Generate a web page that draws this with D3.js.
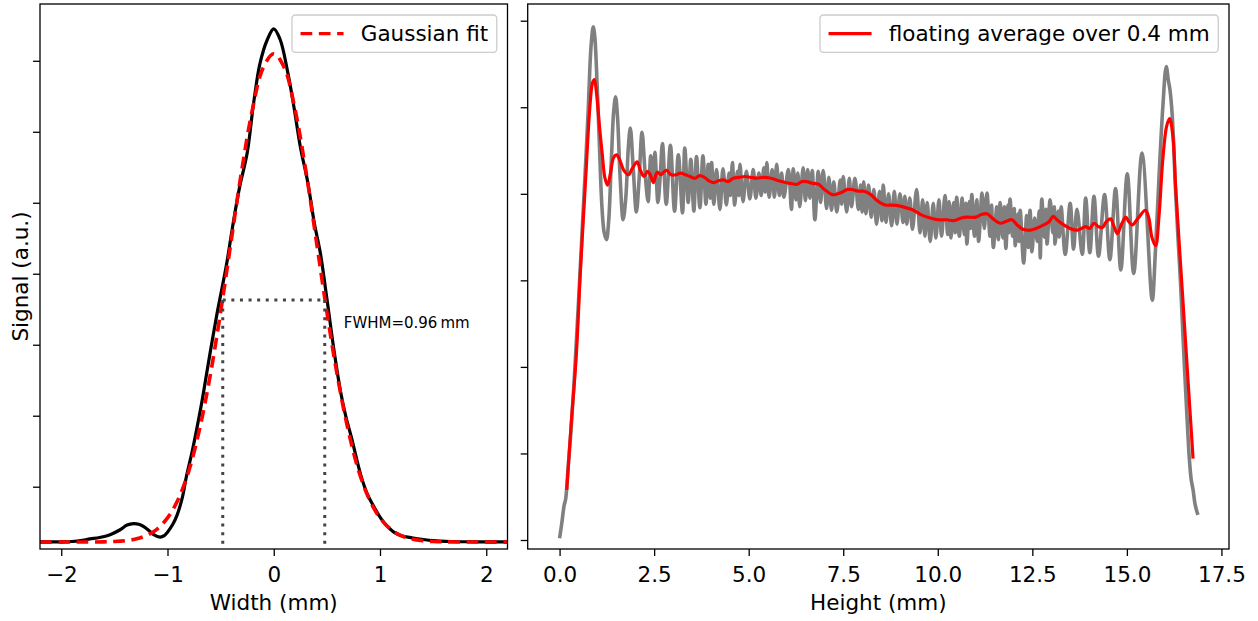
<!DOCTYPE html>
<html>
<head>
<meta charset="utf-8">
<script src="https://cdn.jsdelivr.net/npm/d3@7"></script>
<style>
  body { margin: 0; background: #fff; }
  svg text { font-family: 'DejaVu Sans', sans-serif; fill: #000; }
</style>
</head>
<body>
<script>
/* global d3 */

// ---- left panel: transverse profile, Width (mm) vs signal (a.u.)
const widthProfile = [
  [-2.20, 0.224], [-2.00, 0.224], [-1.90, 0.228], [-1.80, 0.245], [-1.73, 0.265], [-1.64, 0.285],
  [-1.54, 0.325], [-1.45, 0.39], [-1.38, 0.46], [-1.32, 0.48], [-1.27, 0.47], [-1.22, 0.435],
  [-1.17, 0.375], [-1.13, 0.325], [-1.07, 0.29], [-1.03, 0.31], [-1.00, 0.36], [-0.95, 0.47],
  [-0.91, 0.60], [-0.86, 0.85], [-0.82, 1.16], [-0.77, 1.48], [-0.72, 1.85], [-0.67, 2.25],
  [-0.63, 2.61], [-0.58, 3.05], [-0.53, 3.47], [-0.48, 3.85], [-0.44, 4.17], [-0.38, 4.73],
  [-0.32, 5.23], [-0.25, 5.70], [-0.19, 6.40], [-0.13, 6.96], [-0.06, 7.30], [0.00, 7.45],
  [0.06, 7.30], [0.13, 6.85], [0.19, 6.35], [0.25, 5.79], [0.32, 5.29], [0.38, 4.73],
  [0.44, 4.28], [0.50, 3.65], [0.57, 2.89], [0.63, 2.33], [0.68, 1.98], [0.73, 1.70],
  [0.82, 1.16], [0.88, 0.90], [0.95, 0.70], [1.01, 0.55], [1.07, 0.44], [1.13, 0.36],
  [1.20, 0.31], [1.30, 0.28], [1.39, 0.26], [1.50, 0.24], [1.67, 0.228], [1.90, 0.224], [2.20, 0.222]
];

const gaussianFit = [
  [-2.2, 0.22], [-2.0, 0.22], [-1.8, 0.222], [-1.6, 0.223], [-1.5, 0.228], [-1.4, 0.239],
  [-1.3, 0.263], [-1.2, 0.31], [-1.1, 0.40], [-1.0, 0.56], [-0.9, 0.82], [-0.8, 1.22],
  [-0.7, 1.80], [-0.6, 2.55], [-0.5, 3.46], [-0.4, 4.47], [-0.3, 5.47], [-0.2, 6.32],
  [-0.1, 6.90], [0.0, 7.10], [0.1, 6.90], [0.2, 6.32], [0.3, 5.47], [0.4, 4.47],
  [0.5, 3.46], [0.6, 2.55], [0.7, 1.80], [0.8, 1.22], [0.9, 0.82], [1.0, 0.56],
  [1.1, 0.40], [1.2, 0.31], [1.3, 0.263], [1.4, 0.239], [1.5, 0.228], [1.6, 0.223],
  [1.8, 0.222], [2.0, 0.22], [2.2, 0.22]
];

const fwhmEdges = [-0.48, 0.48];
const halfMax = 3.63;
const fwhmLabel = 'FWHM=0.96\u2009mm';

const widthTicks = [-2, -1, 0, 1, 2];
const signalTicks = [1, 2, 3, 4, 5, 6, 7];

// ---- right panel: longitudinal profile, Height (mm)
const rawProfile = [
  [0.00, 0.02], [0.06, 0.20], [0.12, 0.40], [0.16, 0.47], [0.22, 0.80], [0.30, 1.25], [0.40, 1.95],
  [0.50, 2.75], [0.60, 3.60], [0.70, 4.45], [0.76, 5.00], [0.80, 5.45], [0.84, 5.75], [0.89, 5.93],
  [0.93, 5.82], [0.98, 5.40], [1.05, 4.60], [1.12, 3.85], [1.18, 3.55], [1.24, 3.47], [1.30, 3.70],
  [1.37, 4.40], [1.43, 4.95], [1.48, 5.12], [1.53, 4.90], [1.60, 4.20], [1.68, 3.70], [1.75, 3.95],
  [1.82, 4.55], [1.87, 4.76], [1.94, 4.35], [2.03, 3.79], [2.10, 4.15], [2.18, 4.71], [2.26, 4.25],
  [2.34, 3.91], [2.41, 4.44], [2.47, 4.15], [2.52, 4.48], [2.60, 3.90], [2.66, 4.20], [2.72, 4.58],
  [2.82, 3.88], [2.93, 4.56], [3.04, 3.80], [3.14, 4.45], [3.25, 3.78], [3.31, 4.53], [3.40, 3.90],
  [3.47, 4.40], [3.55, 3.80], [3.62, 4.43], [3.71, 3.84], [3.79, 4.44], [3.87, 3.88], [3.93, 4.34],
  [3.98, 3.95], [4.02, 4.36], [4.08, 3.88], [4.15, 4.28], [4.24, 3.82], [4.32, 4.29], [4.41, 3.87],
  [4.48, 4.24], [4.52, 3.98], [4.57, 4.36], [4.63, 3.87], [4.70, 4.26], [4.74, 3.98], [4.77, 4.34],
  [4.85, 3.91], [4.94, 4.26], [5.03, 3.94], [5.12, 4.28], [5.19, 3.95], [5.27, 4.24], [5.33, 3.98],
  [5.40, 4.30], [5.44, 4.02], [5.48, 4.36], [5.54, 3.96], [5.62, 4.28], [5.68, 3.96], [5.74, 4.34],
  [5.81, 3.98], [5.87, 4.24], [5.93, 3.96], [6.05, 4.28], [6.13, 3.82], [6.18, 4.29], [6.25, 3.93],
  [6.30, 4.24], [6.35, 3.85], [6.44, 4.30], [6.50, 3.92], [6.56, 4.28], [6.62, 3.95], [6.68, 4.27],
  [6.75, 3.70], [6.84, 4.26], [6.90, 3.90], [6.97, 4.27], [7.06, 3.83], [7.12, 4.19], [7.19, 3.81],
  [7.25, 4.14], [7.33, 3.79], [7.42, 4.16], [7.46, 3.88], [7.50, 4.20], [7.59, 3.79], [7.66, 4.18],
  [7.72, 3.85], [7.81, 4.18], [7.90, 3.82], [7.96, 4.10], [8.00, 3.79], [8.04, 4.14], [8.10, 3.77],
  [8.17, 4.10], [8.24, 3.73], [8.31, 4.05], [8.38, 3.65], [8.46, 4.03], [8.52, 3.69], [8.56, 4.10],
  [8.63, 3.67], [8.70, 4.00], [8.78, 3.63], [8.85, 4.03], [8.92, 3.65], [9.00, 4.00], [9.08, 3.67],
  [9.13, 3.97], [9.18, 3.65], [9.26, 3.95], [9.33, 3.59], [9.44, 4.05], [9.53, 3.55], [9.60, 3.93],
  [9.66, 3.51], [9.72, 3.90], [9.80, 3.45], [9.88, 3.89], [9.95, 3.49], [10.03, 3.93], [10.10, 3.51],
  [10.19, 3.98], [10.26, 3.53], [10.30, 3.91], [10.35, 3.49], [10.42, 3.90], [10.46, 3.55], [10.50, 3.96],
  [10.57, 3.51], [10.64, 3.95], [10.70, 3.53], [10.74, 3.89], [10.77, 3.42], [10.84, 3.91], [10.87, 3.60],
  [10.90, 3.99], [10.97, 3.51], [11.03, 3.93], [11.08, 3.45], [11.17, 4.01], [11.23, 3.60], [11.30, 4.01],
  [11.38, 3.51], [11.42, 3.87], [11.47, 3.38], [11.56, 3.85], [11.60, 3.47], [11.65, 3.90], [11.72, 3.49],
  [11.76, 3.85], [11.80, 3.37], [11.86, 3.87], [11.88, 3.55], [11.91, 3.94], [11.98, 3.51], [12.02, 3.83],
  [12.05, 3.40], [12.12, 3.77], [12.15, 3.45], [12.18, 3.81], [12.27, 3.20], [12.35, 3.75], [12.39, 3.38],
  [12.44, 3.81], [12.49, 3.33], [12.56, 3.72], [12.63, 3.45], [12.68, 3.80], [12.71, 3.26], [12.75, 3.94],
  [12.82, 3.50], [12.86, 3.82], [12.89, 3.42], [12.97, 3.93], [13.04, 3.55], [13.08, 3.85], [13.10, 3.42],
  [13.18, 3.80], [13.21, 3.50], [13.26, 3.85], [13.37, 3.30], [13.50, 3.89], [13.59, 3.36], [13.68, 3.82],
  [13.82, 3.30], [13.91, 3.95], [14.02, 3.32], [14.13, 3.97], [14.25, 3.28], [14.41, 3.99], [14.55, 3.24],
  [14.70, 4.06], [14.84, 3.12], [15.01, 4.23], [15.18, 3.08], [15.40, 4.47], [15.67, 2.77], [15.75, 3.30],
  [15.85, 4.20], [15.95, 5.00], [16.04, 5.47], [16.10, 5.30], [16.14, 5.20], [16.20, 4.90], [16.28, 4.10],
  [16.35, 3.50], [16.42, 2.96], [16.50, 2.20], [16.59, 1.42], [16.65, 0.95], [16.70, 0.70], [16.75, 0.58],
  [16.80, 0.42], [16.85, 0.33], [16.88, 0.29]
];

const floatingAverage = [
  [0.19, 0.58], [0.30, 1.30], [0.44, 2.12], [0.55, 3.10], [0.69, 4.18], [0.80, 5.00], [0.87, 5.28],
  [0.92, 5.32], [0.98, 5.15], [1.05, 4.80], [1.13, 4.45], [1.20, 4.18], [1.27, 4.10], [1.35, 4.25],
  [1.43, 4.42], [1.51, 4.45], [1.60, 4.38], [1.70, 4.27], [1.82, 4.22], [1.93, 4.30], [2.05, 4.37],
  [2.13, 4.28], [2.23, 4.20], [2.33, 4.26], [2.40, 4.22], [2.48, 4.13], [2.58, 4.25], [2.68, 4.22],
  [2.75, 4.25], [2.83, 4.27], [2.95, 4.22], [3.08, 4.22], [3.20, 4.24], [3.33, 4.22], [3.45, 4.20],
  [3.58, 4.18], [3.70, 4.21], [3.83, 4.19], [3.95, 4.15], [4.08, 4.13], [4.20, 4.15], [4.34, 4.16],
  [4.45, 4.14], [4.59, 4.18], [4.75, 4.19], [4.90, 4.20], [5.05, 4.19], [5.21, 4.18], [5.40, 4.19],
  [5.59, 4.18], [5.80, 4.15], [5.97, 4.13], [6.10, 4.12], [6.28, 4.11], [6.40, 4.14], [6.53, 4.14],
  [6.70, 4.12], [6.85, 4.11], [7.00, 4.05], [7.22, 3.99], [7.35, 4.00], [7.48, 4.02], [7.60, 4.05],
  [7.72, 4.05], [7.90, 4.03], [8.05, 4.03], [8.23, 3.99], [8.40, 3.92], [8.61, 3.87], [8.80, 3.87],
  [8.98, 3.86], [9.15, 3.84], [9.36, 3.81], [9.55, 3.76], [9.80, 3.72], [10.00, 3.70], [10.24, 3.70],
  [10.42, 3.69], [10.62, 3.72], [10.77, 3.73], [11.00, 3.73], [11.15, 3.76], [11.30, 3.77], [11.49, 3.70],
  [11.65, 3.66], [11.80, 3.68], [11.96, 3.70], [12.10, 3.64], [12.25, 3.59], [12.44, 3.58], [12.60, 3.60],
  [12.80, 3.64], [12.95, 3.68], [13.05, 3.74], [13.15, 3.70], [13.33, 3.64], [13.50, 3.60], [13.69, 3.58],
  [13.80, 3.60], [13.91, 3.62], [14.02, 3.60], [14.13, 3.66], [14.25, 3.62], [14.35, 3.61], [14.46, 3.68],
  [14.57, 3.71], [14.66, 3.62], [14.75, 3.54], [14.86, 3.65], [14.97, 3.73], [15.05, 3.68], [15.14, 3.64],
  [15.30, 3.72], [15.49, 3.81], [15.58, 3.72], [15.66, 3.50], [15.76, 3.40], [15.85, 3.75], [15.95, 4.40],
  [16.05, 4.78], [16.13, 4.87], [16.22, 4.65], [16.29, 4.07], [16.42, 3.18], [16.52, 2.50], [16.63, 1.75],
  [16.75, 0.94]
];

const heightTicks = [0, 2.5, 5, 7.5, 10, 12.5, 15, 17.5];
const heightSignalTicks = [0, 1, 2, 3, 4, 5, 6];

// ---- layout
const width = 1258;
const height = 621;
const fontSize = 21.5;

const leftBox = { x0: 40, x1: 507.5, y0: 4, y1: 549 };
const rightBox = { x0: 527.7, x1: 1229, y0: 4, y1: 549 };

const svg = d3.select('body').append('svg')
  .attr('width', width)
  .attr('height', height);

const xW = d3.scaleLinear().domain([-2.2, 2.2]).range([leftBox.x0, leftBox.x1]);
const yW = d3.scaleLinear().domain([0.1225, 7.8]).range([leftBox.y1, leftBox.y0]);
const xH = d3.scaleLinear().domain([-0.843, 17.70]).range([rightBox.x0, rightBox.x1]);
const yH = d3.scaleLinear().domain([-0.104, 6.193]).range([rightBox.y1, rightBox.y0]);

const defs = svg.append('defs');
[['clipL', leftBox], ['clipR', rightBox]].forEach(([id, b]) => {
  defs.append('clipPath').attr('id', id)
    .append('rect')
      .attr('x', b.x0).attr('y', b.y0)
      .attr('width', b.x1 - b.x0).attr('height', b.y1 - b.y0);
});

function drawAxes(box, x, y, xTicks, xFormat, yTicks, xLabel) {
  const g = svg.append('g');

  const xa = g.append('g')
    .attr('transform', `translate(0,${box.y1})`)
    .call(d3.axisBottom(x).tickValues(xTicks).tickFormat(xFormat).tickSize(7).tickPadding(11));
  const ya = g.append('g')
    .attr('transform', `translate(${box.x0},0)`)
    .call(d3.axisLeft(y).tickValues(yTicks).tickFormat('').tickSize(7));

  [xa, ya].forEach(a => {
    a.select('.domain').remove();
    a.selectAll('line').attr('stroke', '#000').attr('stroke-width', 1.3);
    a.selectAll('text')
      .attr('font-size', fontSize)
      .attr('font-family', "'DejaVu Sans', sans-serif")
      .attr('fill', '#000');
  });

  g.append('text')
    .attr('x', (box.x0 + box.x1) / 2)
    .attr('y', 610)
    .attr('text-anchor', 'middle')
    .attr('font-size', fontSize)
    .text(xLabel);

  g.append('rect')
    .attr('x', box.x0).attr('y', box.y0)
    .attr('width', box.x1 - box.x0).attr('height', box.y1 - box.y0)
    .attr('fill', 'none')
    .attr('stroke', '#000')
    .attr('stroke-width', 1.3);
}

function drawLegend(box, label, stroke, dash) {
  const g = svg.append('g');
  const rect = g.append('rect');
  const text = g.append('text')
    .attr('font-size', fontSize)
    .text(label);
  const tw = text.node().getComputedTextLength();
  const pad = 0.4 * fontSize;
  const handle = 2 * fontSize;
  const gap = 0.8 * fontSize;
  const w = pad + handle + gap + tw + pad;
  const h = 37.3;
  const x0 = box.x1 - 10.7 - w;
  const y0 = box.y0 + 11;

  rect
    .attr('x', x0).attr('y', y0)
    .attr('width', w).attr('height', h)
    .attr('rx', 3.5)
    .attr('fill', '#fff')
    .attr('fill-opacity', 0.8)
    .attr('stroke', '#cccccc')
    .attr('stroke-width', 1.3);

  g.append('line')
    .attr('x1', x0 + pad).attr('x2', x0 + pad + handle)
    .attr('y1', y0 + h / 2).attr('y2', y0 + h / 2)
    .attr('stroke', stroke)
    .attr('stroke-width', 3.4)
    .attr('stroke-dasharray', dash);

  text
    .attr('x', x0 + pad + handle + gap)
    .attr('y', y0 + h / 2 + 0.36 * fontSize);
}

// ---- left panel
const lineW = d3.line()
  .x(d => xW(d[0]))
  .y(d => yW(d[1]))
  .curve(d3.curveCatmullRom.alpha(0.5));

const plotL = svg.append('g').attr('clip-path', 'url(#clipL)');

plotL.append('path')
  .datum(widthProfile)
  .attr('d', lineW)
  .attr('fill', 'none')
  .attr('stroke', '#000')
  .attr('stroke-width', 3.2);

plotL.append('path')
  .datum(gaussianFit)
  .attr('d', lineW)
  .attr('fill', 'none')
  .attr('stroke', '#ff0000')
  .attr('stroke-width', 3.6)
  .attr('stroke-dasharray', '11.7,6.6');

// FWHM guides
const fwhmStyle = sel => sel
  .attr('stroke', '#444')
  .attr('stroke-width', 3)
  .attr('stroke-dasharray', '3,5.6')
  .attr('fill', 'none');

plotL.append('line')
  .attr('x1', xW(fwhmEdges[0])).attr('x2', xW(fwhmEdges[1]))
  .attr('y1', yW(halfMax)).attr('y2', yW(halfMax))
  .call(fwhmStyle);

plotL.selectAll('line.vguide')
  .data(fwhmEdges)
  .enter().append('line')
    .attr('class', 'vguide')
    .attr('x1', d => xW(d)).attr('x2', d => xW(d))
    .attr('y1', yW(halfMax)).attr('y2', yW(yW.domain()[0]))
    .call(fwhmStyle);

svg.append('text')
  .attr('x', xW(fwhmEdges[1]) + 19)
  .attr('y', yW(halfMax) + 28)
  .attr('font-size', 15)
  .text(fwhmLabel);

drawAxes(leftBox, xW, yW, widthTicks, d3.format('d'), signalTicks, 'Width (mm)');

svg.append('text')
  .attr('transform', `translate(27.5,${(leftBox.y0 + leftBox.y1) / 2}) rotate(-90)`)
  .attr('text-anchor', 'middle')
  .attr('font-size', fontSize)
  .text('Signal (a.u.)');

drawLegend(leftBox, 'Gaussian fit', '#ff0000', '11.7,6.6');

// ---- right panel
const lineH = d3.line()
  .x(d => xH(d[0]))
  .y(d => yH(d[1]))
  .curve(d3.curveCatmullRom.alpha(0.5));

const plotR = svg.append('g').attr('clip-path', 'url(#clipR)');

plotR.append('path')
  .datum(rawProfile)
  .attr('d', lineH)
  .attr('fill', 'none')
  .attr('stroke', '#808080')
  .attr('stroke-width', 3.6)
  .attr('stroke-linejoin', 'round');

plotR.append('path')
  .datum(floatingAverage)
  .attr('d', lineH)
  .attr('fill', 'none')
  .attr('stroke', '#ff0000')
  .attr('stroke-width', 3.2)
  .attr('stroke-linejoin', 'round');

drawAxes(rightBox, xH, yH, heightTicks, d3.format('.1f'), heightSignalTicks, 'Height (mm)');

drawLegend(rightBox, 'floating average over 0.4 mm', '#ff0000', null);
</script>
</body>
</html>
